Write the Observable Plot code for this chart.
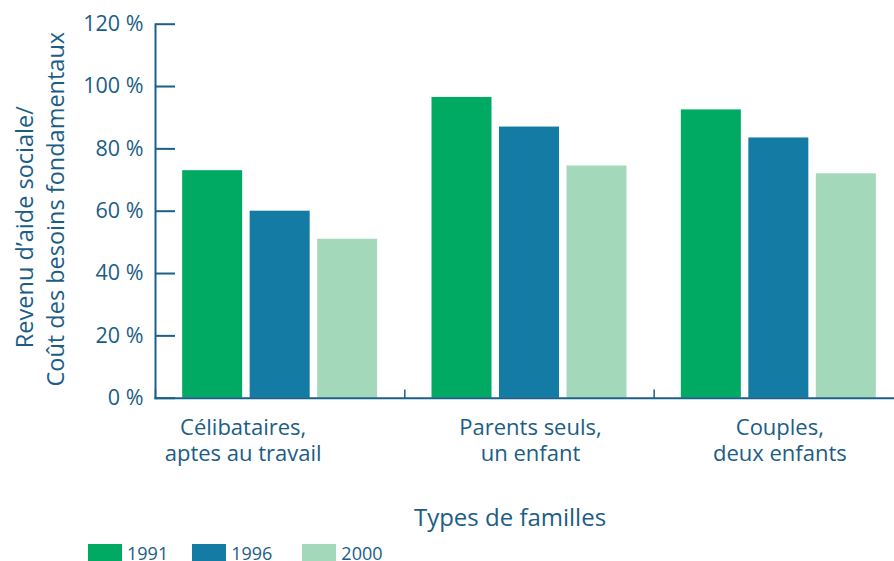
<!DOCTYPE html>
<html><head><meta charset="utf-8">
<script src="https://cdn.jsdelivr.net/npm/d3@7"></script>
<script src="https://cdn.jsdelivr.net/npm/@observablehq/plot@0.6"></script>
<style>
html,body{margin:0;padding:0;background:#fff;overflow:hidden;}
#wrap{position:relative;width:894px;height:561px;font-family:"Open Sans",sans-serif;}
#legend{position:absolute;left:88px;top:544px;display:flex;font-size:18px;color:#1b5d85;line-height:18px;}
.item{display:flex;align-items:flex-start;}
.sw{width:34px;height:18px;margin-right:5px;}
.item:nth-child(1){margin-right:24px}
.item:nth-child(2){margin-right:30px}
</style></head><body><div id="wrap"></div>
<script>
const groups = ["Célibataires, aptes au travail", "Parents seuls, un enfant", "Couples, deux enfants"];
const groupLabels = ["Célibataires,\naptes au travail", "Parents seuls,\nun enfant", "Couples,\ndeux enfants"];
const years = ["1991", "1996", "2000"];
const values1991 = [73, 96.5, 92.5];
const values1996 = [60, 87, 83.5];
const values2000 = [51, 74.5, 72];
const yTicks = [0, 20, 40, 60, 80, 100, 120];
const colors = ["#00aa63", "#137ba4", "#a4d8bb"];
const yTitleLines = ["Revenu d’aide sociale/", "Coût des besoins fondamentaux"];
const xTitle = "Types de familles";

const series = [values1991, values1996, values2000];
const data = groups.flatMap((g, i) => years.map((y, j) => ({group: g, year: y, value: series[j][i]})));
const labelData = groups.map((g, i) => ({group: g, label: groupLabels[i]}));
const TEXT = "#1b5d85", LINE = "#1b6088";

const plot = Plot.plot({
  width: 894, height: 540,
  marginTop: 23.7, marginBottom: 142.3, marginLeft: 155, marginRight: -9,
  style: {fontFamily: '"Open Sans", sans-serif', background: "transparent", overflow: "visible"},
  fx: {domain: groups, padding: 0, round: false, axis: null, label: null},
  x: {domain: years, paddingInner: 0.111, paddingOuter: 0.4025, round: false, axis: null},
  y: {domain: [0, 120], axis: null},
  color: {domain: years, range: colors},
  marks: [
    Plot.barY(data, {fx: "group", x: "year", y: "value", fill: "year"}),
    Plot.frame({facet: "super", anchor: "left", stroke: LINE, strokeWidth: 2}),
    Plot.frame({facet: "super", anchor: "bottom", stroke: LINE, strokeWidth: 2}),
    Plot.frame({anchor: "left", insetTop: 366, stroke: LINE, strokeWidth: 1.5}),
    Plot.axisY(yTicks, {anchor: "right", frameAnchor: "left", facetAnchor: "left", tickSize: 19, fill: "none", stroke: LINE, strokeWidth: 2, label: null}),
    Plot.axisY(yTicks, {anchor: "left", tickSize: 0, tickPadding: 12, tickFormat: d => `${d} %`, fill: TEXT, fontSize: 21.5, label: null}),
    Plot.text(labelData.slice(0, 1), {fx: "group", text: "label", frameAnchor: "bottom", lineAnchor: "bottom", dy: 62.3, dx: -37, lineHeight: 1.18, fontSize: 22, fill: TEXT}),
    Plot.text(labelData.slice(1), {fx: "group", text: "label", frameAnchor: "bottom", lineAnchor: "bottom", dy: 62.3, dx: 1, lineHeight: 1.18, fontSize: 22, fill: TEXT}),
    Plot.text([xTitle], {facet: "super", text: d => d, frameAnchor: "bottom", textAnchor: "middle", lineAnchor: "bottom", dy: 127.3, dx: -19.5, fontSize: 24, fill: TEXT}),
    Plot.text([yTitleLines[0]], {facet: "super", text: d => d, frameAnchor: "left", textAnchor: "middle", rotate: -90, lineAnchor: "bottom", dx: -123, dy: 16, fontSize: 23.5, fill: TEXT}),
    Plot.text([yTitleLines[1]], {facet: "super", text: d => d, frameAnchor: "left", textAnchor: "middle", rotate: -90, lineAnchor: "bottom", dx: -92, dy: -2, fontSize: 23.5, fill: TEXT})
  ]
});

const wrap = document.getElementById("wrap");
wrap.appendChild(plot);
const legend = document.createElement("div");
legend.id = "legend";
years.forEach((y, i) => {
  const item = document.createElement("div");
  item.className = "item";
  const sw = document.createElement("div");
  sw.className = "sw";
  sw.style.background = colors[i];
  const lab = document.createElement("span");
  lab.textContent = y;
  item.appendChild(sw);
  item.appendChild(lab);
  legend.appendChild(item);
});
wrap.appendChild(legend);
</script>
</body></html>
